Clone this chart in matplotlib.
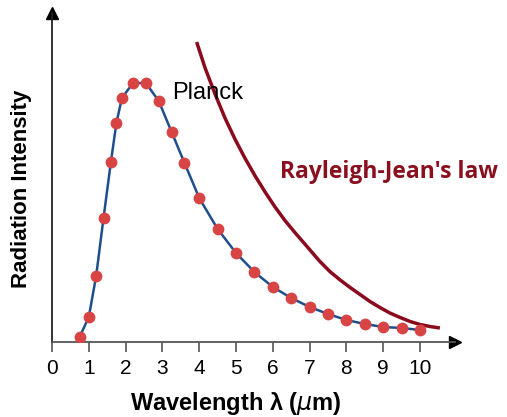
import matplotlib
matplotlib.use("Agg")
import matplotlib.pyplot as plt

# Planck data points (wavelength in um, intensity in arbitrary units)
planck_wl = [0.75, 1.0, 1.2, 1.4, 1.6, 1.75, 1.9, 2.2, 2.55, 2.9, 3.25, 3.6, 4.0,
             4.5, 5.0, 5.5, 6.0, 6.5, 7.0, 7.5, 8.0, 8.5, 9.0, 9.5, 10.0]
planck_int = [5, 25, 66, 124, 180, 219, 244, 259, 259, 241, 210, 179, 144,
              113, 89, 70, 55, 44, 35, 28, 22, 18, 15, 14, 12]

# Rayleigh-Jeans curve
rj_wl = [3.93, 4.16, 4.43, 4.70, 4.97, 5.24, 5.52, 5.79, 6.06, 6.33, 6.6, 6.87, 7.01,
         7.28, 7.55, 7.83, 8.10, 8.37, 8.64, 8.91, 9.18, 9.46, 9.73, 10.0, 10.27, 10.54]
rj_int = [300, 274, 248, 224, 203, 184, 166, 150, 135, 121.5, 109.5, 98, 92,
          80.5, 70.5, 62, 54.5, 47.5, 40.5, 34.5, 29, 24.5, 20.5, 17.5, 15.5, 14]

xticks = list(range(0, 11))

fig = plt.figure(figsize=(5.07, 4.17), dpi=100)
ax = fig.add_axes([52/507, 1-342/417, (455-52)/507, (342-13)/417])
ax.set_xlim(0, 10.95)
ax.set_ylim(0, 329)

ax.plot(planck_wl, planck_int, color='#1f4e8c', lw=1.8, zorder=2, solid_joinstyle='round')
ax.plot(planck_wl, planck_int, 'o', color='#d84444', ms=8.5, mec='none', zorder=3)
ax.plot(rj_wl, rj_int, color='#8a0a1e', lw=2.5, zorder=2, solid_capstyle='butt',
        solid_joinstyle='round')

for s in ['top', 'right']:
    ax.spines[s].set_visible(False)
ax.spines['bottom'].set_color('#555555')
ax.spines['left'].set_color('#222222')
ax.spines['bottom'].set_linewidth(1.3)
ax.spines['left'].set_linewidth(1.3)

ax.plot([1], [0], marker='>', color='black', ms=9, transform=ax.transAxes, clip_on=False)
ax.plot([0], [1], marker='^', color='black', ms=9, transform=ax.transAxes, clip_on=False)

ax.set_xticks(xticks)
ax.set_xticklabels([str(t) for t in xticks], fontfamily='Liberation Sans', fontsize=15)
ax.tick_params(axis='x', length=7, width=1.2, color='#555555', pad=5)
ax.set_yticks([])

ax.text(3.26, 249, 'Planck', fontfamily='Liberation Sans', fontsize=17, va='center', ha='left')
fig.text(280/507, 1-172/417, "Rayleigh-Jean's law", fontfamily='Open Sans', fontweight='bold',
         fontsize=16.5, color='#8a1020', va='center', ha='left')

fig.text(236/507, 1-410/417, 'Wavelength λ ($\\mu$m)', fontfamily='Liberation Sans',
         fontweight='bold', fontsize=17, ha='center', va='baseline')
fig.text(22/507, 1-189/417, 'Radiation Intensity', fontfamily='Liberation Sans',
         fontweight='bold', fontsize=16, ha='center', va='center', rotation=90)

fig.savefig('out.png', dpi=100)
